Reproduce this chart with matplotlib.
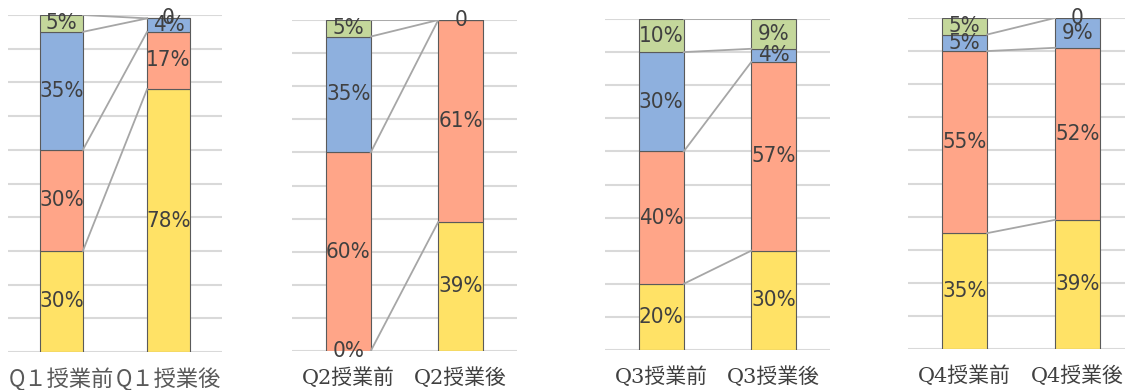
import numpy as np
import matplotlib.pyplot as plt

# before / after labels for each question
labels = [
    ["Q１授業前", "Q１授業後"],
    ["Q2授業前", "Q2授業後"],
    ["Q3授業前", "Q3授業後"],
    ["Q4授業前", "Q4授業後"],
]

# shares per answer group, one value per question (Q1..Q4)
yellow_before = [0.30, 0.00, 0.20, 0.35]
yellow_after = [0.78, 0.39, 0.30, 0.39]
salmon_before = [0.30, 0.60, 0.40, 0.55]
salmon_after = [0.17, 0.61, 0.57, 0.52]
blue_before = [0.35, 0.35, 0.30, 0.05]
blue_after = [0.04, np.nan, 0.04, 0.09]
green_before = [0.05, 0.05, 0.10, 0.05]
green_after = [0.00, 0.00, 0.09, 0.00]

series = [
    (yellow_before, yellow_after, "#FFE266"),
    (salmon_before, salmon_after, "#FFA588"),
    (blue_before, blue_after, "#8EB0DE"),
    (green_before, green_after, "#C4D79B"),
]

# axes boxes in pixels: left, top, right, bottom
boxes = [(8, 15, 222, 352), (292, 20, 517, 351), (605, 19, 830, 350), (908, 18, 1134, 349)]

W, H = 1125, 390
fig = plt.figure(figsize=(W / 100, H / 100), dpi=100)

width = 0.4

for q, (l, t, r, b) in enumerate(boxes):
    ax = fig.add_axes([l / W, 1 - b / H, (r - l) / W, (b - t) / H])
    ax.set_xlim(-0.5, 1.5)
    ax.set_ylim(0, 1)
    ax.set_yticks(np.arange(0, 1.01, 0.1))
    ax.grid(axis="y", color="#D9D9D9", lw=1.5, zorder=0)
    ax.set_axisbelow(True)
    for s in ax.spines.values():
        s.set_visible(False)
    ax.tick_params(left=False, bottom=False, labelleft=False, pad=8)
    ax.set_xticks([0, 1])
    if q == 0:
        ax.set_xticklabels(labels[q], family=["Noto Sans CJK JP"], fontsize=16,
                           color="#595959")
    else:
        ax.set_xticklabels(labels[q], family=["DejaVu Serif", "Noto Sans CJK JP"],
                           fontsize=15, color="#404040")

    bottoms = [0.0, 0.0]
    for before, after, color in series:
        vals = [before[q], after[q]]
        tops = []
        for i, v in enumerate(vals):
            h = 0.0 if np.isnan(v) else v
            ax.bar(i, h, width, bottom=bottoms[i], color=color,
                   edgecolor="#5A5A5A", lw=0.8, zorder=2)
            if not np.isnan(v):
                if v == 0 and i == 1:
                    txt = "0"
                else:
                    txt = f"{v * 100:.0f}%"
                ax.text(i, bottoms[i] + h / 2, txt, ha="center", va="center",
                        fontsize=16, color="#404040", family="DejaVu Sans",
                        fontstretch="condensed", zorder=4)
            tops.append(bottoms[i] + h)
        # series line joining the tops of the same group
        ax.plot([width / 2, 1 - width / 2], tops, color="#A6A6A6", lw=1.3, zorder=3)
        bottoms = tops

fig.savefig("out.png", dpi=100)
